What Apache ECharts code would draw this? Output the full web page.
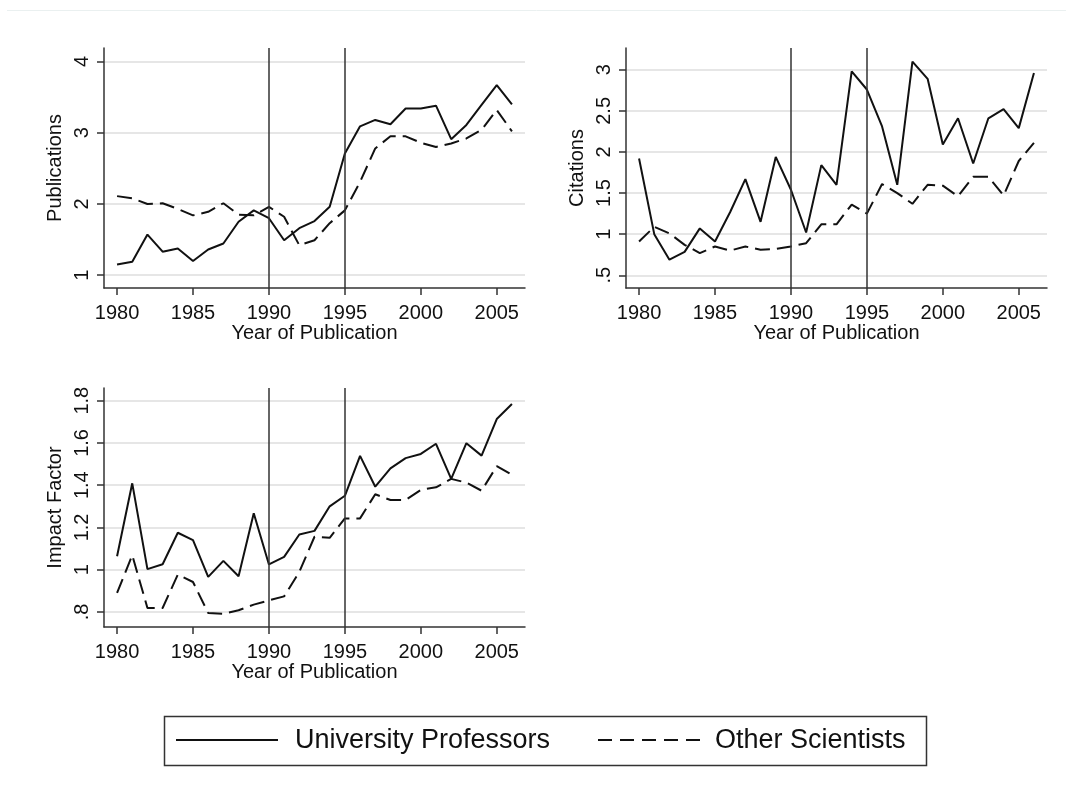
<!DOCTYPE html>
<html lang="en">
<head>
    <meta charset="UTF-8">
    <title>Publications, Citations and Impact Factor</title>
    <script src="https://cdn.jsdelivr.net/npm/echarts@6/dist/echarts.min.js"></script>
    <style>
        * { margin: 0; padding: 0; box-sizing: border-box; }
        body { background: #fff; }
        #chart { width: 1073px; height: 786px; }
    </style>
</head>
<body>
    <div id="chart"></div>
    <script>
        // years on the x axis
        const years = [1980, 1981, 1982, 1983, 1984, 1985, 1986, 1987, 1988, 1989, 1990, 1991, 1992, 1993,
                       1994, 1995, 1996, 1997, 1998, 1999, 2000, 2001, 2002, 2003, 2004, 2005, 2006];
        const xTicks = [1980, 1985, 1990, 1995, 2000, 2005];
        const breakYears = [1990, 1995];
        const groups = ['University Professors', 'Other Scientists'];

        // Publications
        const pubProf  = [1.15, 1.19, 1.57, 1.33, 1.375, 1.20, 1.36, 1.445, 1.75, 1.91, 1.80, 1.49, 1.66, 1.76,
                          1.96, 2.71, 3.09, 3.18, 3.12, 3.34, 3.34, 3.38, 2.91, 3.11, 3.39, 3.67, 3.40];
        const pubOther = [2.11, 2.08, 2.00, 2.01, 1.93, 1.84, 1.89, 2.01, 1.85, 1.84, 1.96, 1.82, 1.42, 1.49,
                          1.73, 1.91, 2.31, 2.78, 2.95, 2.95, 2.86, 2.80, 2.85, 2.92, 3.04, 3.32, 3.02];
        const pubTicks = [1, 2, 3, 4];

        // Citations
        const citProf  = [1.92, 1.00, 0.69, 0.785, 1.07, 0.91, 1.27, 1.67, 1.15, 1.94, 1.54, 1.02, 1.84, 1.60,
                          2.98, 2.76, 2.31, 1.60, 3.10, 2.89, 2.09, 2.41, 1.86, 2.41, 2.52, 2.29, 2.96];
        const citOther = [0.91, 1.09, 1.01, 0.87, 0.77, 0.85, 0.80, 0.85, 0.81, 0.82, 0.85, 0.89, 1.12, 1.12,
                          1.36, 1.25, 1.61, 1.50, 1.37, 1.60, 1.59, 1.46, 1.70, 1.70, 1.47, 1.89, 2.11];
        const citTicks = [0.5, 1, 1.5, 2, 2.5, 3];

        // Impact Factor
        const ifProf  = [1.064, 1.409, 1.003, 1.026, 1.175, 1.14, 0.966, 1.042, 0.969, 1.267, 1.025, 1.061, 1.167, 1.184,
                         1.30, 1.35, 1.539, 1.393, 1.48, 1.528, 1.548, 1.596, 1.43, 1.599, 1.54, 1.713, 1.784];
        const ifOther = [0.89, 1.069, 0.819, 0.819, 0.977, 0.942, 0.795, 0.792, 0.808, 0.835, 0.855, 0.874, 0.99, 1.156,
                         1.151, 1.243, 1.243, 1.357, 1.33, 1.33, 1.378, 1.39, 1.43, 1.412, 1.374, 1.49, 1.449];
        const ifTicks = [0.8, 1, 1.2, 1.4, 1.6, 1.8];

        const FONT = '"Liberation Sans", Arial, sans-serif';
        const INK = '#111';
        const DASH = [15, 7];

        const pairs = vals => years.map((y, i) => [y, vals[i]]);
        const stripZero = v => String(+v.toFixed(2)).replace(/^0\./, '.');

        const grids = [
            { left: 104, top: 48, width: 421, height: 240 },
            { left: 626, top: 48, width: 421, height: 240 },
            { left: 104, top: 388, width: 421, height: 239 }
        ];

        const panels = [
            { name: 'Publications', min: 0.82, max: 4.19, ticks: pubTicks, prof: pubProf, other: pubOther },
            { name: 'Citations', min: 0.345, max: 3.265, ticks: citTicks, prof: citProf, other: citOther },
            { name: 'Impact Factor', min: 0.729, max: 1.86, ticks: ifTicks, prof: ifProf, other: ifOther }
        ];

        const xAxes = panels.map((p, i) => ({
            type: 'value', gridIndex: i, min: 1979.14, max: 2006.86,
            name: 'Year of Publication', nameLocation: 'middle', nameGap: 34,
            nameTextStyle: { fontFamily: FONT, fontSize: 20, color: INK },
            axisLine: { lineStyle: { color: '#333', width: 1.5 } },
            axisTick: { length: 7, lineStyle: { color: '#333', width: 1.5 }, customValues: xTicks },
            axisLabel: { fontFamily: FONT, fontSize: 20, color: INK, margin: 15, customValues: xTicks,
                         formatter: v => String(v) },
            splitLine: { show: false }
        }));

        const yAxes = panels.map((p, i) => ({
            type: 'value', gridIndex: i, min: p.min, max: p.max,
            name: p.name, nameLocation: 'middle', nameGap: 39,
            nameTextStyle: { fontFamily: FONT, fontSize: 20, color: INK },
            axisLine: { show: true, lineStyle: { color: '#333', width: 1.5 } },
            axisTick: { show: true, length: 7, lineStyle: { color: '#333', width: 1.5 }, customValues: p.ticks },
            axisLabel: { fontFamily: FONT, fontSize: 20, color: INK, margin: 12, rotate: 90,
                         customValues: p.ticks, formatter: stripZero },
            splitLine: { show: true, lineStyle: { color: '#e6e6e6', width: 2 } }
        }));

        const series = [];
        panels.forEach((p, i) => {
            series.push({
                name: groups[0], type: 'line', xAxisIndex: i, yAxisIndex: i,
                data: pairs(p.prof), showSymbol: false, symbol: 'none',
                lineStyle: { color: INK, width: 2 },
                markLine: {
                    silent: true, symbol: 'none', label: { show: false },
                    lineStyle: { color: '#333', width: 1.5, type: 'solid' },
                    data: breakYears.map(y => ({ xAxis: y }))
                }
            });
            series.push({
                name: groups[1], type: 'line', xAxisIndex: i, yAxisIndex: i,
                data: pairs(p.other), showSymbol: false, symbol: 'none',
                lineStyle: { color: INK, width: 2, type: DASH }
            });
        });

        // legend box drawn as graphics (Stata-style key)
        const legendText = { fontFamily: FONT, fontSize: 27, fill: INK, textVerticalAlign: 'middle' };
        const legend = [
            { type: 'rect', silent: true, shape: { x: 164.5, y: 716.5, width: 762, height: 49 },
              style: { fill: '#fff', stroke: '#333', lineWidth: 1.5 } },
            { type: 'line', silent: true, shape: { x1: 176, y1: 740, x2: 278, y2: 740 },
              style: { stroke: INK, lineWidth: 2 } },
            { type: 'text', silent: true, x: 295, y: 741, style: Object.assign({ text: groups[0] }, legendText) },
            { type: 'line', silent: true, shape: { x1: 598, y1: 740, x2: 702, y2: 740 },
              style: { stroke: INK, lineWidth: 2, lineDash: [14, 8] } },
            { type: 'text', silent: true, x: 715, y: 741, style: Object.assign({ text: groups[1] }, legendText) }
        ];

        const chart = echarts.init(document.getElementById('chart'));
        chart.setOption({
            backgroundColor: '#fff',
            animation: false,
            grid: grids,
            xAxis: xAxes,
            yAxis: yAxes,
            series: series,
            graphic: [{
                type: 'line', silent: true,
                shape: { x1: 7, y1: 10.5, x2: 1066, y2: 10.5 },
                style: { stroke: '#eaf0f0', lineWidth: 1 }
            }].concat(legend)
        });
    </script>
</body>
</html>
